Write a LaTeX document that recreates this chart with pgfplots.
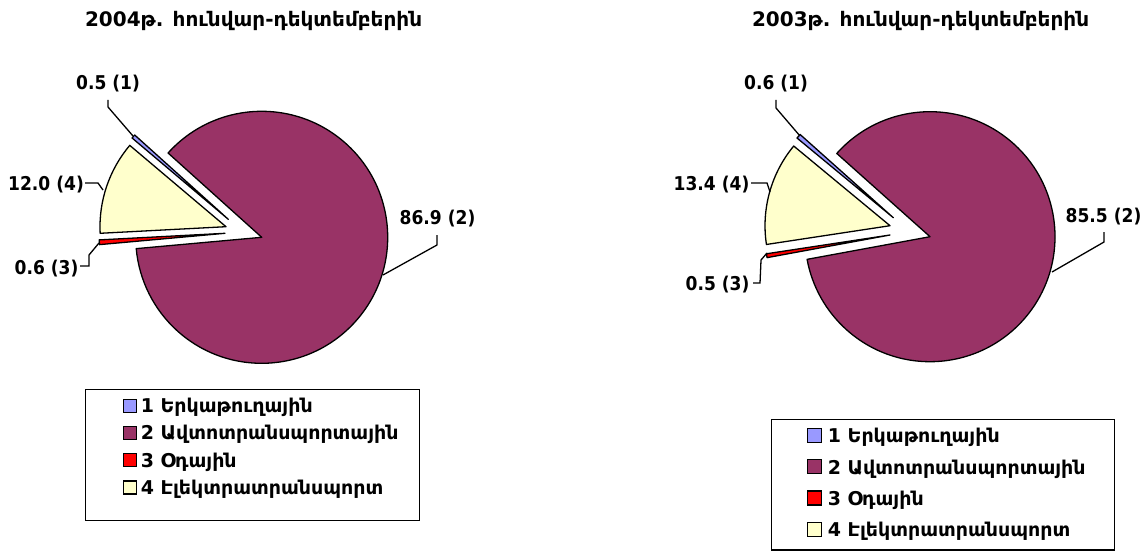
\documentclass[border=0pt]{standalone}
\usepackage{pgfplots}
\pgfplotsset{compat=1.18}
\usepackage{pgfplotstable}
\usepackage{fontspec}
\setmainfont{DejaVu Sans}
\newfontfamily\labfont{DejaVu Sans}[FakeStretch=0.9]
\newcommand\labstyle{\labfont\bfseries\fontsize{19}{22}\selectfont}
\newcommand\legstyle{\bfseries\fontsize{19}{22}\selectfont}
\newcommand\titstyle{\bfseries\fontsize{20}{24}\selectfont}

\definecolor{pieblue}{HTML}{9999FF}
\definecolor{piepurple}{HTML}{993366}
\definecolor{piered}{HTML}{FF0000}
\definecolor{pieyellow}{HTML}{FFFFCC}

% share of each mode of transport, per cent; dx/dy = offset of the pulled-out slice
\pgfplotstableread{
value dx    dy   color
0.5   -33.4 18.0 pieblue
86.9  0     0    piepurple
0.6   -36.7 4.0  piered
12.0  -35.7 10.6 pieyellow
}\pieA
\pgfplotstableread{
value dx    dy   color
0.6   -36.7 19.0 pieblue
85.5  0     0    piepurple
0.5   -40.0 1.7  piered
13.4  -40.0 11.0 pieyellow
}\pieB

% #1 table, #2 cx, #3 cy, #4 radius, #5 angle where slice 1 starts (clockwise)
\newcommand\drawpie[5]{%
  \pgfplotstablegetrowsof{#1}%
  \pgfmathtruncatemacro\lastrow{\pgfplotsretval-1}%
  \def\curang{#5}%
  \pgfplotsforeachungrouped \i in {0,...,\lastrow}{%
    \pgfplotstablegetelem{\i}{value}\of{#1}\let\val\pgfplotsretval
    \pgfplotstablegetelem{\i}{dx}\of{#1}\let\ddx\pgfplotsretval
    \pgfplotstablegetelem{\i}{dy}\of{#1}\let\ddy\pgfplotsretval
    \pgfplotstablegetelem{\i}{color}\of{#1}\let\col\pgfplotsretval
    \pgfmathsetmacro\endang{\curang-3.6*\val}%
    \pgfmathsetmacro\sx{#2+\ddx}%
    \pgfmathsetmacro\sy{#3+\ddy}%
    \edef\temp{\noexpand\filldraw[fill=\col,draw=black,line width=1.3pt,line join=round]
      (axis cs:\sx,\sy) -- ++(\curang:#4pt)
      arc[start angle=\curang,end angle=\endang,radius=#4pt] -- cycle;}%
    \temp
    \let\curang\endang
  }%
}

\pgfplotsset{
  pieaxis/.style={
    x=1pt, y=1pt, xmin=0, xmax=1147, ymin=0, ymax=550,
    scale only axis, hide axis, clip=false,
    at={(0,0)}, anchor=south west,
    legend cell align=left,
    legend style={draw=black, line width=1.2pt, inner xsep=0pt, inner ysep=8pt,
      cells={anchor=base west},
      nodes={inner sep=0pt, text height=15pt, text depth=, font=\legstyle}},
  },
}
\tikzset{leader/.style={draw=black, line width=1.3pt}}
\newcommand\deep[1]{\rule[-#1]{0pt}{#1}}

\begin{document}
\begin{tikzpicture}
\path[use as bounding box] (0,0) rectangle (1147pt,550pt);

% ---------------- 2004
\begin{axis}[pieaxis,
  legend image code/.code={\path (-37pt,0pt);
    \draw[#1,draw=black,line width=1.2pt] (0pt,0.5pt) rectangle (13pt,13.5pt);},
  legend style={at={(axis cs:85,161)}, anchor=north west, row sep=7.3pt}]
  \drawpie{\pieA}{261.7}{312.7}{126}{139.8}

  \node[anchor=base,font=\titstyle] at (axis cs:253.5,523) {2004թ. հունվար-դեկտեմբերին};

  \draw[leader] (axis cs:108,450) -- (axis cs:108,443) -- (axis cs:133,414);
  \node[anchor=base,font=\labstyle] at (axis cs:108,460) {0.5 (1)};
  \draw[leader] (axis cs:85,367) -- (axis cs:98,367) -- (axis cs:103,360);
  \node[anchor=base,font=\labstyle] at (axis cs:46,360) {12.0 (4)};
  \draw[leader] (axis cs:80,284) -- (axis cs:89,284) -- (axis cs:89,295) -- (axis cs:99,307);
  \node[anchor=base,font=\labstyle] at (axis cs:46.5,276) {0.6 (3)};
  \draw[leader] (axis cs:437,315) -- (axis cs:437,305) -- (axis cs:383,275);
  \node[anchor=base,font=\labstyle] at (axis cs:437.5,326) {86.9 (2)};

  \addlegendimage{fill=pieblue}
  \addlegendentry{\makebox[283pt][l]{\hspace*{4pt}\deep{5pt}1 Երկաթուղային}}
  \addlegendimage{fill=piepurple}
  \addlegendentry{\makebox[283pt][l]{\hspace*{4pt}\deep{5pt}2 Ավտոտրանսպորտային}}
  \addlegendimage{fill=piered}
  \addlegendentry{\makebox[283pt][l]{\hspace*{4pt}\deep{5pt}3 Օդային}}
  \addlegendimage{fill=pieyellow}
  \addlegendentry{\makebox[283pt][l]{\hspace*{4pt}\deep{18pt}4 Էլեկտրատրանսպորտ}}
\end{axis}

% ---------------- 2003
\begin{axis}[pieaxis,
  legend image code/.code={\path (-35pt,0pt);
    \draw[#1,draw=black,line width=1.2pt] (0pt,0.5pt) rectangle (14pt,14.5pt);},
  legend style={at={(axis cs:771,131)}, anchor=north west, row sep=11.3pt}]
  \drawpie{\pieB}{930}{313.3}{125}{140.4}

  \node[anchor=base,font=\titstyle] at (axis cs:920.5,523) {2003թ. հունվար-դեկտեմբերին};

  \draw[leader] (axis cs:776,450) -- (axis cs:776,442) -- (axis cs:800,414);
  \node[anchor=base,font=\labstyle] at (axis cs:776,460) {0.6 (1)};
  \draw[leader] (axis cs:751,367) -- (axis cs:767,367) -- (axis cs:770,358);
  \node[anchor=base,font=\labstyle] at (axis cs:711.5,360) {13.4 (4)};
  \draw[leader] (axis cs:753,267) -- (axis cs:760,267) -- (axis cs:761,290) -- (axis cs:767,297);
  \node[anchor=base,font=\labstyle] at (axis cs:717.5,260) {0.5 (3)};
  \draw[leader] (axis cs:1104,318) -- (axis cs:1104,308) -- (axis cs:1052,278);
  \node[anchor=base,font=\labstyle] at (axis cs:1103.5,328) {85.5 (2)};

  \addlegendimage{fill=pieblue}
  \addlegendentry{\makebox[293pt][l]{\hspace*{6pt}\deep{5pt}1 Երկաթուղային}}
  \addlegendimage{fill=piepurple}
  \addlegendentry{\makebox[293pt][l]{\hspace*{6pt}\deep{5pt}2 Ավտոտրանսպորտային}}
  \addlegendimage{fill=piered}
  \addlegendentry{\makebox[293pt][l]{\hspace*{6pt}\deep{5pt}3 Օդային}}
  \addlegendimage{fill=pieyellow}
  \addlegendentry{\makebox[293pt][l]{\hspace*{6pt}\deep{5pt}4 Էլեկտրատրանսպորտ}}
\end{axis}
\end{tikzpicture}
\end{document}
